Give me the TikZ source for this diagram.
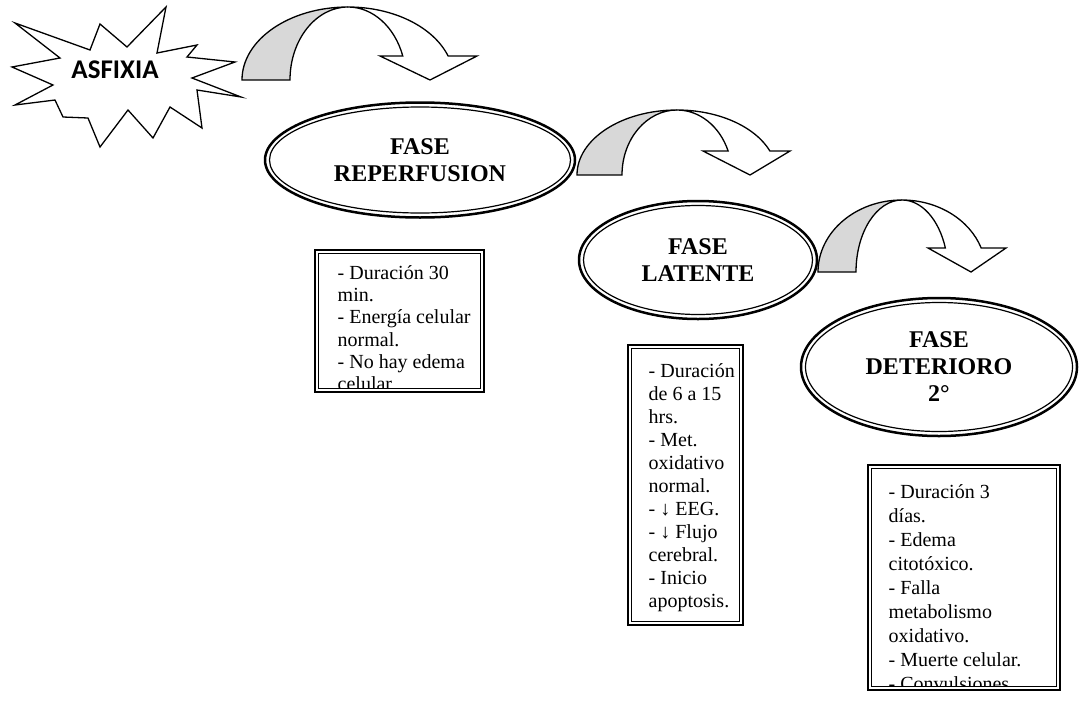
\documentclass[tikz,border=0pt]{standalone}
\usepackage{fontspec}
\setmainfont{Liberation Serif}
\newfontfamily\starfont{Carlito}
\usetikzlibrary{shapes.geometric}

\newcommand\notefont[1]{\fontsize{20}{#1}\selectfont}

% curved block arrow: centre x, base y, arc height, outer rx, inner rx,
% head base y, head left x, head right x, tip x   (y measured downwards)
\newcommand\bentarrow[9]{%
  \pgfmathsetmacro\bth{asin((#2-#6)/#3)}%
  \draw[band, fill=backgray] (#1-#4,-#2)
     arc[start angle=180, end angle=90, x radius=#4, y radius=#3]
     arc[start angle=90, end angle=180, x radius=#5, y radius=#3] -- cycle;
  \draw[band, fill=white] (#1,-#2+#3)
     arc[start angle=90, end angle=\bth, x radius=#4, y radius=#3]
     -- (#8,-#6) -- (#9,-#2) -- (#7,-#6)
     -- ({#1+#5*cos(\bth)},-#6)
     arc[start angle=\bth, end angle=90, x radius=#5, y radius=#3] -- cycle;
}

\begin{document}
\begin{tikzpicture}[x=1pt, y=1pt,
  band/.style={line width=1.3pt, line join=miter},
  phase/.style={ellipse, draw, line width=2.5pt, inner sep=0pt, align=center,
                font=\bfseries\fontsize{24}{27}\selectfont},
  ring/.style={line width=1.2pt},
  notebox/.style={rectangle, draw, line width=2.8pt, inner sep=0pt, anchor=north west},
  noteline/.style={line width=1.2pt},
  notetext/.style={anchor=base west, inner sep=0pt}]
\definecolor{backgray}{RGB}{216,216,216}
\useasboundingbox (0,0) rectangle (1086,-704);

% ---- starting event ----
\draw[line width=1.3pt, line join=miter, fill=white]
  (15,-23) -- (90,-50) -- (100,-24) -- (127,-47) -- (166,-7) -- (157,-53)
  -- (197,-45) -- (187,-57) -- (235,-62) -- (192,-78) -- (241,-97)
  -- (197,-90) -- (202,-128) -- (170,-107) -- (153,-138) -- (128,-110)
  -- (100,-147) -- (88,-118) -- (63,-117) -- (55,-100) -- (15,-105)
  -- (53,-85) -- (12,-67) -- (60,-58) -- cycle;
\node[font=\starfont\bfseries\fontsize{27}{30}\selectfont] (asf) at (115,-70) {ASFIXIA};

% ---- curved arrows between the phases ----
\bentarrow{348}{80}{73}{106}{58}{56}{380}{477}{430}
\bentarrow{677}{175}{65}{100}{55}{151}{703}{790}{750}
\bentarrow{902}{272}{72}{84}{46}{248}{928}{1006}{971}

% ---- phases ----
\node[phase, minimum width=310pt, minimum height=115pt] (e1) at (420,-160) {FASE\\REPERFUSION};
\draw[ring] (e1.center) ellipse [x radius=150.5, y radius=53];
\node[phase, minimum width=238pt, minimum height=118pt] (e2) at (698,-260) {FASE\\LATENTE};
\draw[ring] (e2.center) ellipse [x radius=114.5, y radius=54.5];
\node[phase, minimum width=276pt, minimum height=138pt] (e3) at (939,-367) {FASE\\DETERIORO\\2°};
\draw[ring] (e3.center) ellipse [x radius=133.5, y radius=64.5];

% ---- description boxes ----
\node[notebox, minimum width=169pt, minimum height=142pt] (b1) at (313.5,-248.5) {};
\draw[noteline] ([shift={(5,-5)}]b1.north west) rectangle ([shift={(-5,5)}]b1.south east);
\begin{scope}
  \clip ([shift={(5.6,-5.6)}]b1.north west) rectangle ([shift={(-5.6,5.6)}]b1.south east);
  \node[notetext] (t1) at ([shift={(24,-31)}]b1.north west)
    {\parbox[t]{200pt}{\notefont{22.2}\raggedright
      - Duración 30\\ min.\\ - Energía celular\\ normal.\\ - No hay edema\\ celular}};
\end{scope}

\node[notebox, minimum width=115pt, minimum height=280pt] (b2) at (626.5,-343.5) {};
\draw[noteline] ([shift={(5,-5)}]b2.north west) rectangle ([shift={(-5,5)}]b2.south east);
\begin{scope}
  \clip ([shift={(5.6,-5.6)}]b2.north west) rectangle ([shift={(-5.6,5.6)}]b2.south east);
  \node[notetext] (t2) at ([shift={(22,-34)}]b2.north west)
    {\parbox[t]{200pt}{\notefont{23}\raggedright
      - Duración\\ de 6 a 15\\ hrs.\\ - Met.\\ oxidativo\\ normal.\\ - ↓ EEG.\\
      - ↓ Flujo\\ cerebral.\\ - Inicio\\ apoptosis.}};
\end{scope}

\node[notebox, minimum width=192pt, minimum height=225pt] (b3) at (866.5,-463.5) {};
\draw[noteline] ([shift={(5,-5)}]b3.north west) rectangle ([shift={(-5,5)}]b3.south east);
\begin{scope}
  \clip ([shift={(5.6,-5.6)}]b3.north west) rectangle ([shift={(-5.6,5.6)}]b3.south east);
  \node[notetext] (t3) at ([shift={(22,-34.5)}]b3.north west)
    {\parbox[t]{200pt}{\notefont{24}\raggedright
      - Duración 3\\ días.\\ - Edema\\ citotóxico.\\ - Falla\\ metabolismo\\
      oxidativo.\\ - Muerte celular.\\ - Convulsiones}};
\end{scope}
\end{tikzpicture}
\end{document}
